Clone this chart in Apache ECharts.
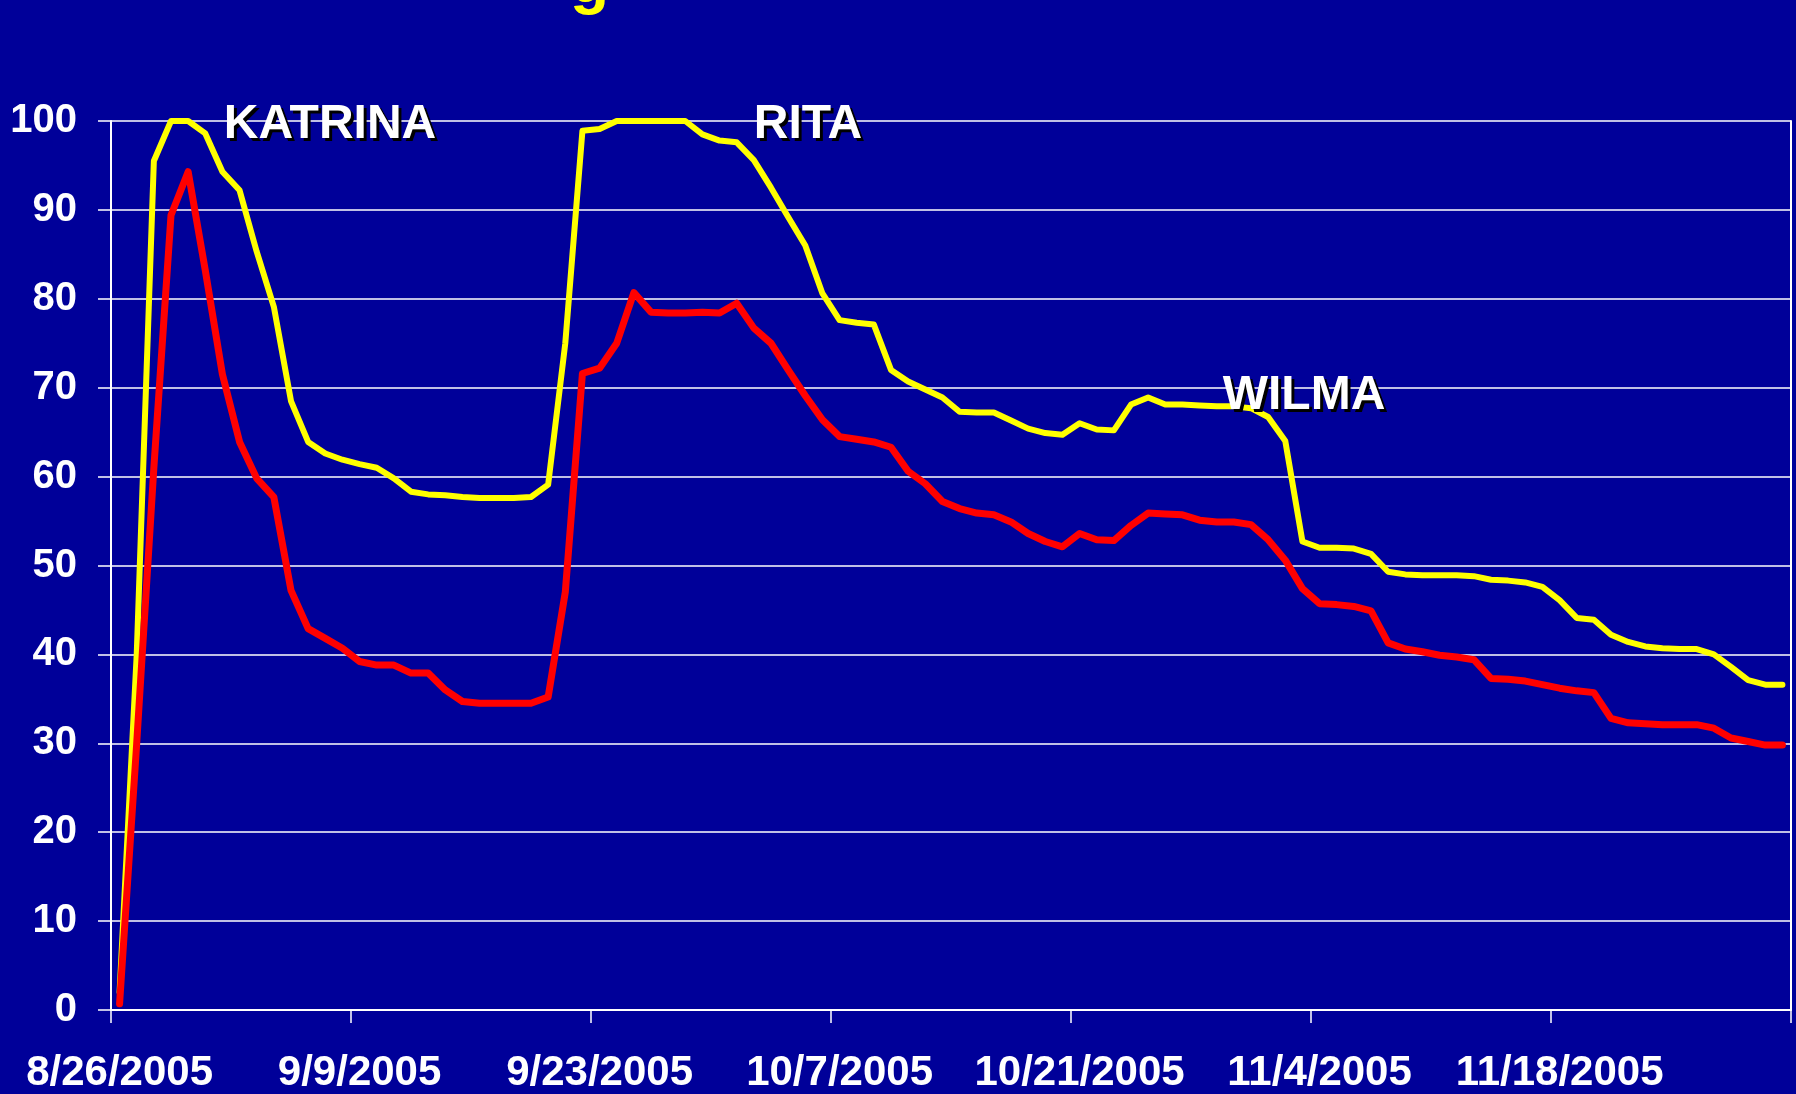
<!DOCTYPE html>
<html>
<head>
<meta charset="utf-8">
<script src="https://cdn.jsdelivr.net/npm/echarts@6/dist/echarts.min.js"></script>
<style>
  html, body { margin: 0; padding: 0; background: #000099; }
  #chart { width: 1796px; height: 1094px; }
</style>
</head>
<body>
<div id="chart"></div>
<script>
// Daily categories: 8/26/2005 .. 12/1/2005 (98 days)
const startDate = [2005, 7, 26];
const dayCount = 98;
const categories = [];
for (let i = 0; i < dayCount; i++) {
  const d = new Date(startDate[0], startDate[1], startDate[2] + i);
  categories.push((d.getMonth() + 1) + '/' + d.getDate() + '/' + d.getFullYear());
}
const tickLabels = ['8/26/2005', '9/9/2005', '9/23/2005', '10/7/2005', '10/21/2005', '11/4/2005', '11/18/2005'];

const yellowSeries = [
  2, 40, 95.5, 100, 100, 98.6, 94.3, 92.2, 85.3, 79.1,
  68.5, 63.9, 62.6, 61.9, 61.4, 61.0, 59.8, 58.3, 58.0, 57.9,
  57.7, 57.6, 57.6, 57.6, 57.7, 59.1, 75, 98.9, 99.1, 100,
  100, 100, 100, 100, 98.5, 97.8, 97.6, 95.6, 92.5, 89.2,
  86.0, 80.6, 77.6, 77.3, 77.1, 72.0, 70.7, 69.8, 68.9, 67.3,
  67.2, 67.2, 66.3, 65.4, 64.9, 64.7, 66.0, 65.3, 65.2, 68.1,
  68.9, 68.1, 68.1, 68.0, 67.9, 67.9, 67.7, 66.7, 64.0, 52.7,
  52.0, 52.0, 51.9, 51.3, 49.3, 49.0, 48.9, 48.9, 48.9, 48.8,
  48.4, 48.3, 48.1, 47.6, 46.1, 44.1, 43.9, 42.2, 41.4, 40.9,
  40.7, 40.6, 40.6, 40.0, 38.6, 37.1, 36.6, 36.6
];
const redSeries = [
  0.7, 30, 61, 89.4, 94.3, 83.2, 71.5, 63.9, 59.8, 57.7,
  47.2, 42.9, 41.8, 40.7, 39.2, 38.8, 38.8, 37.9, 37.9, 36.0,
  34.7, 34.5, 34.5, 34.5, 34.5, 35.2, 47, 71.6, 72.2, 75.0,
  80.7, 78.5, 78.4, 78.4, 78.5, 78.4, 79.5, 76.7, 75.0, 72.0,
  69.1, 66.4, 64.5, 64.2, 63.9, 63.3, 60.6, 59.2, 57.2, 56.4,
  55.9, 55.7, 54.9, 53.6, 52.7, 52.1, 53.6, 52.9, 52.8, 54.5,
  55.9, 55.8, 55.7, 55.1, 54.9, 54.9, 54.6, 52.9, 50.6, 47.4,
  45.7, 45.6, 45.4, 44.9, 41.3, 40.6, 40.3, 39.9, 39.7, 39.4,
  37.3, 37.2, 37.0, 36.6, 36.2, 35.9, 35.7, 32.8, 32.3, 32.2,
  32.1, 32.1, 32.1, 31.7, 30.6, 30.2, 29.8, 29.8
];
const stormNames = ['KATRINA', 'RITA', 'WILMA'];

const FONT = '"Liberation Sans", Arial, sans-serif';
const chart = echarts.init(document.getElementById('chart'), null, { renderer: 'canvas' });

function stormLabel(name, x, y) {
  const base = { fontFamily: FONT, fontWeight: 'bold', fontSize: 48, text: name, align: 'center', verticalAlign: 'middle' };
  return [
    { type: 'text', x: x + 3, y: y + 3, z: 50, style: Object.assign({}, base, { fill: '#000000' }) },
    { type: 'text', x: x, y: y, z: 51, style: Object.assign({}, base, { fill: '#ffffff' }) }
  ];
}

chart.setOption({
  animation: false,
  backgroundColor: '#000099',
  grid: { left: 111, right: 5, top: 121, bottom: 84, containLabel: false },
  xAxis: {
    type: 'category',
    data: categories,
    boundaryGap: true,
    axisLine: { show: true, lineStyle: { color: '#ffffff', width: 2 } },
    axisTick: { show: true, interval: 13, length: 13, alignWithLabel: false, lineStyle: { color: '#ffffff', width: 1.5 } },
    axisLabel: {
      interval: 13,
      margin: 42,
      color: '#ffffff',
      fontFamily: FONT,
      fontWeight: 'bold',
      fontSize: 42,
      formatter: function (v) { return tickLabels.indexOf(v) >= 0 ? v : ''; }
    },
    splitLine: { show: false }
  },
  yAxis: [
    {
      type: 'value',
      min: 0,
      max: 100,
      interval: 10,
      axisLine: { show: true, lineStyle: { color: '#ffffff', width: 2 } },
      axisTick: { show: true, length: 13, lineStyle: { color: '#ffffff', width: 1.5 } },
      axisLabel: { margin: 34, color: '#ffffff', fontFamily: FONT, fontWeight: 'bold', fontSize: 40 },
      splitLine: { show: true, lineStyle: { color: '#ffffff', width: 1.5 } }
    },
    {
      type: 'value',
      position: 'right',
      min: 0,
      max: 100,
      interval: 10,
      axisLine: { show: true, lineStyle: { color: '#ffffff', width: 2 } },
      axisTick: { show: false },
      axisLabel: { show: false },
      splitLine: { show: false }
    }
  ],
  series: [
    {
      name: 'yellow',
      type: 'line',
      data: yellowSeries,
      symbol: 'none',
      lineStyle: { color: '#ffff00', width: 6, cap: 'round', join: 'round' },
      z: 3
    },
    {
      name: 'red',
      type: 'line',
      data: redSeries,
      symbol: 'none',
      lineStyle: { color: '#ff0000', width: 7, cap: 'round', join: 'round' },
      z: 4
    }
  ],
  graphic: [].concat(
    stormLabel(stormNames[0], 330, 125),
    stormLabel(stormNames[1], 808, 125),
    stormLabel(stormNames[2], 1304, 396),
    [{ type: 'text', x: 570, y: -16, z: 52, style: { text: 'g', fill: '#ffff00', fontFamily: FONT, fontWeight: 'bold', fontSize: 64, align: 'left', verticalAlign: 'middle' } }]
  )
});
</script>
</body>
</html>
